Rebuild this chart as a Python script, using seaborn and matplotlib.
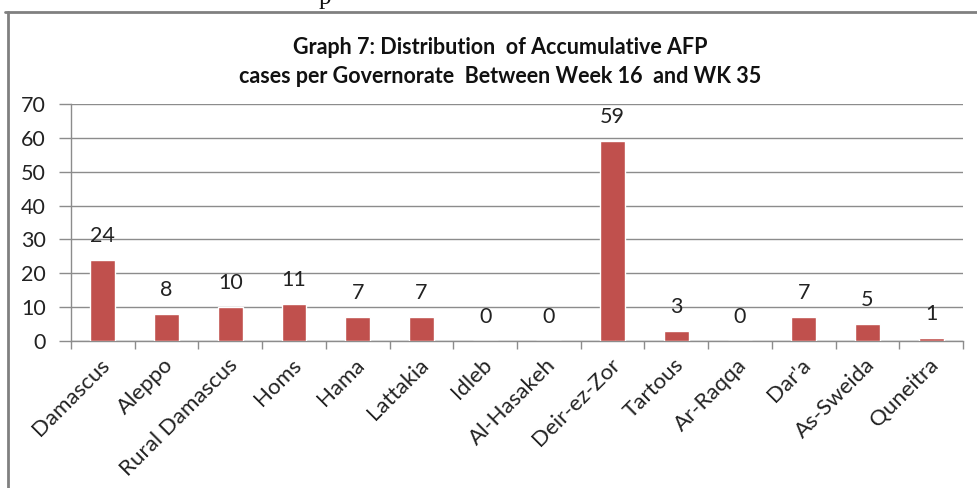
import matplotlib
matplotlib.use("Agg")
import matplotlib.pyplot as plt
import matplotlib.transforms as mtransforms
from matplotlib.lines import Line2D
import seaborn as sns
import pandas as pd

categories = ["Damascus", "Aleppo", "Rural Damascus", "Homs", "Hama", "Lattakia",
              "Idleb", "Al-Hasakeh", "Deir-ez-Zor", "Tartous", "Ar-Raqqa",
              "Dar'a", "As-Sweida", "Quneitra"]
cases = [24, 8, 10, 11, 7, 7, 0, 0, 59, 3, 0, 7, 5, 1]
y_ticks = [0, 10, 20, 30, 40, 50, 60, 70]
title_lines = ["Graph 7: Distribution  of Accumulative AFP",
               "cases per Governorate  Between Week 16  and WK 35"]

sns.set_theme(style="white")
plt.rcParams['font.family'] = ['Lato', 'DejaVu Sans']

df = pd.DataFrame({"gov": categories, "cases": cases})

W, H = 977, 488
fig = plt.figure(figsize=(W / 100, H / 100), dpi=100)
ax = fig.add_axes([71 / W, 147 / H, (963 - 71) / W, (341 - 104) / H])

sns.barplot(data=df, x="gov", y="cases", color="#C0504D", width=0.39,
            saturation=1, ax=ax, zorder=3)

grid_c = "#8C8C8C"
ax.set_ylim(0, 70)
ax.set_xlim(-0.5, len(categories) - 0.5)
ax.set_yticks(y_ticks)
ax.set_yticklabels([str(v) for v in y_ticks], fontsize=15.5, color="#222222")
ax.yaxis.grid(True, color=grid_c, linewidth=1, zorder=0)
ax.set_axisbelow(True)
ax.tick_params(axis="y", length=9, width=1, color=grid_c, pad=9, left=True)
for s in ["top", "right"]:
    ax.spines[s].set_visible(False)
for s in ["left", "bottom"]:
    ax.spines[s].set_color(grid_c)
    ax.spines[s].set_linewidth(1)

# x ticks: marks at category boundaries, labels at centers
ax.set_xticks([i - 0.5 for i in range(len(categories) + 1)], minor=True)
ax.tick_params(axis="x", which="minor", length=6, width=1, color=grid_c, bottom=True)
ax.set_xticks(range(len(categories)))
ax.set_xticklabels(categories, rotation=45, ha="right", rotation_mode="anchor",
                   fontsize=16, color="#222222", va="center")
ax.tick_params(axis="x", which="major", length=0, pad=15)
offset = mtransforms.ScaledTranslation(4 / 100, 0, fig.dpi_scale_trans)
for lbl in ax.get_xticklabels():
    lbl.set_transform(lbl.get_transform() + offset)
ax.set_xlabel("")
ax.set_ylabel("")

# value labels
for i, v in enumerate(cases):
    ax.annotate(str(v), (i, v), xytext=(0, 10), textcoords="offset points",
                ha="center", va="bottom", fontsize=15.5, color="#222222")

# title
fig.text(500 / W, 1 - 47 / H, title_lines[0], ha="center", va="center",
         fontsize=15.5, fontweight="bold", color="#111111")
fig.text(500 / W, 1 - 76 / H, title_lines[1], ha="center", va="center",
         fontsize=15.5, fontweight="bold", color="#111111")

# chart frame
fig.add_artist(Line2D([5 / W, 1], [1 - 12 / H, 1 - 12 / H], transform=fig.transFigure,
                      color="#808080", linewidth=2))
fig.add_artist(Line2D([8 / W, 8 / W], [0, 1 - 12 / H], transform=fig.transFigure,
                      color="#808080", linewidth=2))
# fragment of page text above
fig.text(325 / W, 1 - 4 / H, "p", ha="center", va="baseline",
         fontsize=18, family="Liberation Serif", color="#111111")

fig.savefig("out.png", dpi=100)
